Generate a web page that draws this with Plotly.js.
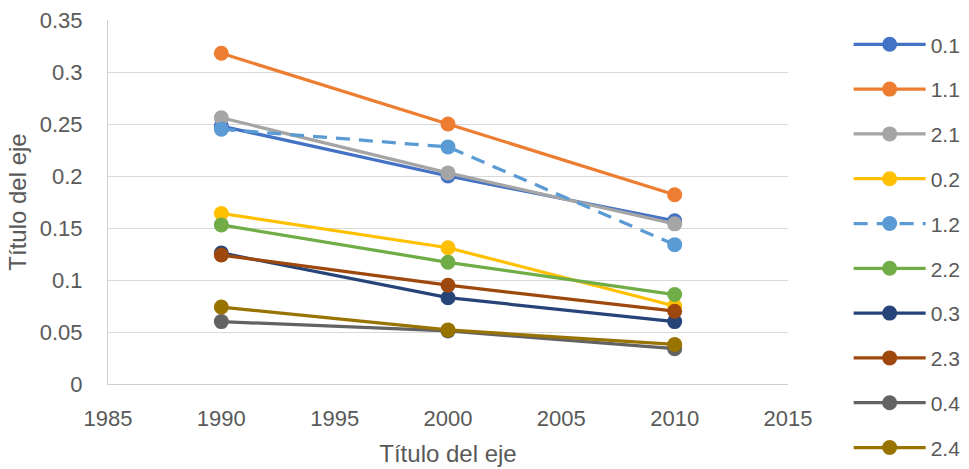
<!DOCTYPE html>
<html>
<head>
<meta charset="utf-8">
<script src="https://cdn.plot.ly/plotly-3.0.1.min.js"></script>
<style>html,body{margin:0;padding:0;background:#fff;}#chart{width:969px;height:469px;}</style>
</head>
<body>
<div id="chart"></div>
<script>
var years = [1990, 2000, 2010];
var seriesNames = ["0.1", "1.1", "2.1", "0.2", "1.2", "2.2", "0.3", "2.3", "0.4", "2.4"];
var s01 = [0.248, 0.200, 0.157];
var s11 = [0.318, 0.250, 0.182];
var s21 = [0.256, 0.203, 0.154];
var s02 = [0.164, 0.131, 0.075];
var s12 = [0.245, 0.228, 0.134];
var s22 = [0.153, 0.117, 0.086];
var s03 = [0.126, 0.083, 0.060];
var s23 = [0.124, 0.095, 0.070];
var s04 = [0.060, 0.051, 0.034];
var s24 = [0.074, 0.052, 0.038];
var seriesValues = [s01, s11, s21, s02, s12, s22, s03, s23, s04, s24];
var colors = ["#4472C4", "#ED7D31", "#A5A5A5", "#FFC000", "#5B9BD5", "#70AD47", "#264478", "#9E480E", "#636363", "#997300"];
var dashes = ["solid", "solid", "solid", "solid", "14px,9px", "solid", "solid", "solid", "solid", "solid"];

var traces = seriesNames.map(function (n, i) {
  return {
    x: years, y: seriesValues[i], name: n, type: "scatter", mode: "lines+markers",
    legendgroup: "g" + i,
    line: {color: colors[i], width: 3.25, dash: dashes[i]},
    marker: {color: colors[i], size: 15}
  };
});

var fam = "Liberation Sans, Arial, sans-serif";
var tickFont = {family: fam, size: 22, color: "#595959"};
var titleFont = {family: fam, size: 24, color: "#595959"};
var layout = {
  width: 969, height: 469,
  margin: {l: 108, r: 181, t: 20, b: 85},
  paper_bgcolor: "#fff", plot_bgcolor: "#fff",
  font: tickFont,
  showlegend: true,
  xaxis: {
    range: [1985, 2015], tickvals: [1985, 1990, 1995, 2000, 2005, 2010, 2015],
    showgrid: false, zeroline: false, showline: true, linecolor: "#d0d0d0", linewidth: 1,
    ticks: "", tickfont: tickFont, ticklabelstandoff: 15,
    title: {text: "Título del eje", font: titleFont, standoff: 14}
  },
  yaxis: {
    range: [0, 0.35], tickvals: [0, 0.05, 0.1, 0.15, 0.2, 0.25, 0.3, 0.35],
    ticktext: ["0", "0.05", "0.1", "0.15", "0.2", "0.25", "0.3", "0.35"],
    showgrid: true, gridcolor: "#d9d9d9", gridwidth: 1, zeroline: false,
    showline: true, linecolor: "#d0d0d0", linewidth: 1,
    ticks: "", tickfont: tickFont, ticklabelstandoff: 20,
    title: {text: "Título del eje", font: titleFont, standoff: 6}
  },
  legend: {
    xref: "container", yref: "container",
    x: 0.8758, xanchor: "left", y: 0.9485, yanchor: "top",
    traceorder: "grouped", tracegroupgap: 14.5, maxheight: 469,
    font: {family: fam, size: 21, color: "#595959"}, bgcolor: "rgba(0,0,0,0)", itemwidth: 72
  }
};
Plotly.newPlot("chart", traces, layout, {displayModeBar: false, staticPlot: true});
</script>
</body>
</html>
